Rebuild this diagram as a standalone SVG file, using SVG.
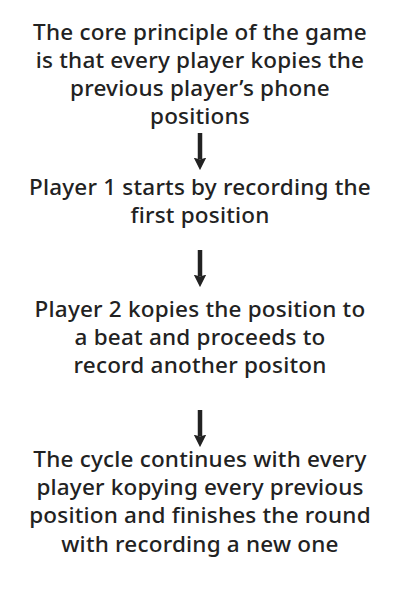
<svg xmlns="http://www.w3.org/2000/svg" width="400" height="600" viewBox="0 0 400 600">
<style>
text{font-family:"Noto Sans","Liberation Sans",sans-serif;font-size:22.5px;font-weight:500;letter-spacing:0.2px;fill:#222;text-anchor:middle}
.c{stroke:#222;stroke-width:4.5;fill:none}
</style>
<defs>
<marker id="ah" viewBox="0 0 10 10" refX="1.5" refY="5" markerUnits="userSpaceOnUse" markerWidth="12.5" markerHeight="19" orient="auto">
<path d="M0,0 L10,5 L0,10 L1.5,5 Z" fill="#222"/>
</marker>
</defs>
<rect width="400" height="600" fill="#fff"/>
<g id="connectors">
<line class="c" x1="200" y1="133" x2="200" y2="159.5" marker-end="url(#ah)"/>
<line class="c" x1="200" y1="250" x2="200" y2="276.5" marker-end="url(#ah)"/>
<line class="c" x1="200" y1="410" x2="200" y2="436.5" marker-end="url(#ah)"/>
</g>
<g id="node1">
<text x="200" y="40">The core principle of the game</text>
<text x="200" y="68">is that every player kopies the</text>
<text x="200" y="96">previous player’s phone</text>
<text x="200" y="124">positions</text>
</g>
<g id="node2">
<text x="200" y="195">Player 1 starts by recording the</text>
<text x="200" y="223">first position</text>
</g>
<g id="node3">
<text x="200" y="317">Player 2 kopies the position to</text>
<text x="200" y="345">a beat and proceeds to</text>
<text x="200" y="373">record another positon</text>
</g>
<g id="node4">
<text x="200" y="467">The cycle continues with every</text>
<text x="200" y="495">player kopying every previous</text>
<text x="200" y="523">position and finishes the round</text>
<text x="200" y="552">with recording a new one</text>
</g>
</svg>
